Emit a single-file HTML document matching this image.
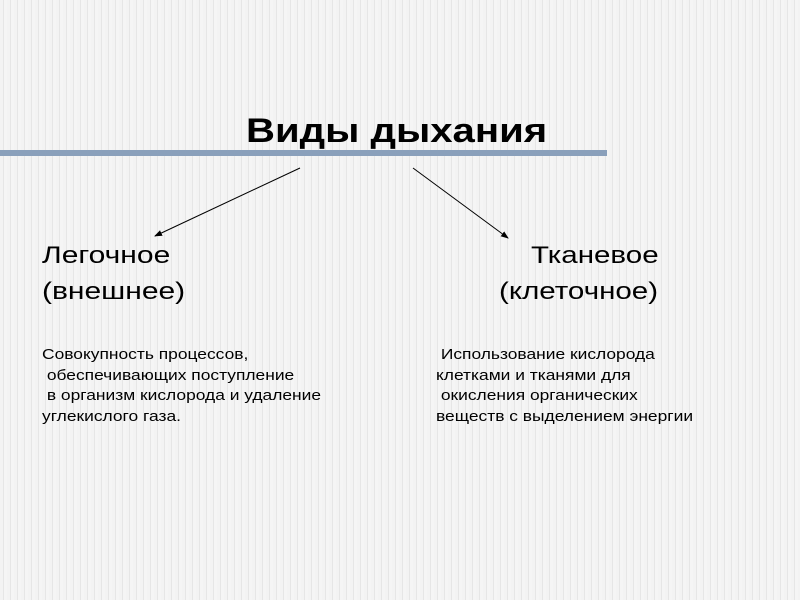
<!DOCTYPE html>
<html><head><meta charset="utf-8"><style>
body{margin:0;width:800px;height:600px;overflow:hidden;font-family:"Liberation Sans","DejaVu Sans",sans-serif;
background:#f0f0f0 repeating-linear-gradient(90deg,#f3f3f3 0 3px,#e6e6e6 3px 4px,#f5f5f5 4px 7px);position:relative;color:#000}
.t{position:absolute;white-space:pre;line-height:1;transform-origin:0 0}
</style></head><body>
<div style="position:absolute;left:0;top:150px;width:607px;height:6px;background:#8aa0bb"></div>
<div class="t" style="left:246px;top:114px;font-size:34px;font-weight:bold;transform:scaleX(1.18)">Виды дыхания</div>
<svg width="800" height="600" style="position:absolute;left:0;top:0">
<defs><marker id="a" markerWidth="8" markerHeight="8" refX="7" refY="4" orient="auto"><path d="M0,1 L8,4 L0,7z" fill="#000"/></marker></defs>
<line x1="300" y1="168" x2="155" y2="236" stroke="#000" stroke-width="1" marker-end="url(#a)"/>
<line x1="413" y1="168" x2="508" y2="238" stroke="#000" stroke-width="1" marker-end="url(#a)"/>
</svg>
<div class="t" style="left:42px;top:244px;font-size:24px;transform:scaleX(1.25)">Легочное</div>
<div class="t" style="left:42px;top:280px;font-size:24px;transform:scaleX(1.25)">(внешнее)</div>
<div class="t" style="left:531px;top:244px;font-size:24px;transform:scaleX(1.23)">Тканевое</div>
<div class="t" style="left:499px;top:280px;font-size:24px;transform:scaleX(1.23)">(клеточное)</div>
<div class="t" style="left:42px;top:345px;font-size:15px;line-height:20.7px;transform:scaleX(1.16)">Совокупность процессов,
 обеспечивающих поступление
 в организм кислорода и удаление
углекислого газа.</div>
<div class="t" style="left:436px;top:345px;font-size:15px;line-height:20.7px;transform:scaleX(1.16)"> Использование кислорода
клетками и тканями для
 окисления органических
веществ с выделением энергии</div>
</body></html>
